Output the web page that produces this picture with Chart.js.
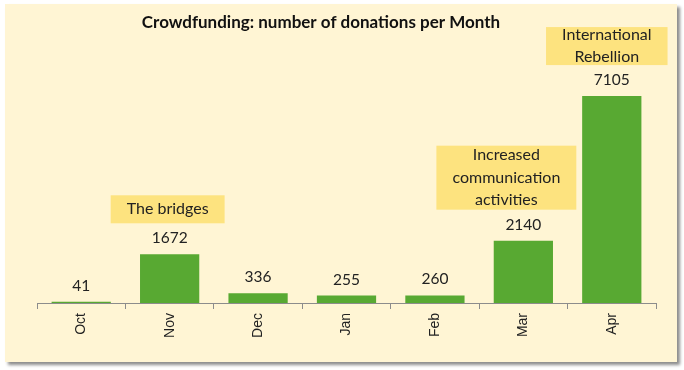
<!DOCTYPE html>
<html>
<head>
<meta charset="utf-8">
<script src="https://cdn.jsdelivr.net/npm/chart.js@4.4.1/dist/chart.umd.min.js"></script>
<style>
    html, body { margin: 0; padding: 0; background: #ffffff; }
    #wrap { position: relative; width: 684px; height: 370px; }
    #card {
        position: absolute; left: 5px; top: 4px; width: 672px; height: 358px;
        background: #fff5d4;
        box-shadow: 3px 3px 3px rgba(0, 0, 0, 0.45);
    }
    #my-chart { position: absolute; left: 0; top: 0; }
</style>
</head>
<body>
<div id="wrap">
    <div id="card"></div>
    <canvas id="my-chart" width="684" height="370"></canvas>
</div>
<script>
// * Crowdfunding donations per month, with event notes above some bars

const months = ['Oct', 'Nov', 'Dec', 'Jan', 'Feb', 'Mar', 'Apr']
const donations = [41, 1672, 336, 255, 260, 2140, 7105]
const chartTitle = 'Crowdfunding: number of donations per Month'

// notes shown above the bars (month -> text lines)
const noteMonths = ['Nov', 'Mar', 'Apr']
const noteTexts = [
    ['The bridges'],
    ['Increased', 'communication', 'activities'],
    ['International', 'Rebellion']
]

const ctx = document.getElementById('my-chart')
const textFont = 'Lato, "Open Sans", sans-serif'

// value labels + note boxes + title
const extrasPlugin = {
    id: 'extras',
    afterDatasetsDraw(chart, args, opts) {
        const c = chart.ctx
        const bars = chart.getDatasetMeta(0).data
        c.save()

        // title
        c.fillStyle = '#111111'
        c.font = 'bold 17px ' + textFont
        c.textAlign = 'center'
        c.textBaseline = 'middle'
        c.fillText(chartTitle, 321, 23)

        // numbers above the bars
        c.fillStyle = '#222222'
        c.font = '15.5px ' + textFont
        c.textBaseline = 'alphabetic'
        bars.forEach((bar, i) => {
            c.fillText(String(donations[i]), bar.x, bar.y - 11)
        })

        // note boxes
        const boxHeights = [0, 28, 38, 64]
        noteMonths.forEach((m, n) => {
            const i = months.indexOf(m)
            const bar = bars[i]
            const lines = noteTexts[n]
            const dx = opts.shift[m] || 0
            c.font = '16px ' + textFont
            const w = Math.max(...lines.map((l) => c.measureText(l).width)) + 32
            const h = boxHeights[lines.length]
            const cx = bar.x + dx
            const bottom = bar.y - 31
            c.fillStyle = '#fde37f'
            c.fillRect(cx - w / 2, bottom - h, w, h)

            c.fillStyle = '#222222'
            c.textBaseline = 'middle'
            const mid = bottom - h / 2
            lines.forEach((l, k) => {
                c.fillText(l, cx, mid + (k - (lines.length - 1) / 2) * 22.5)
            })
        })
        c.restore()
    }
}

new Chart(ctx, {
    type: 'bar',
    data: {
        labels: months,
        datasets: [
            {
                label: 'Number of donations',
                data: donations,
                backgroundColor: '#58a932',
                borderWidth: 0,
                barPercentage: 0.67,
                categoryPercentage: 1
            }
        ]
    },
    options: {
        responsive: false,
        animation: false,
        events: [],
        layout: {
            padding: { left: 37, right: 28, top: 70, bottom: 0 }
        },
        plugins: {
            legend: { display: false },
            tooltip: { enabled: false },
            extras: { shift: { Nov: -2, Mar: -17, Apr: -5 } }
        },
        scales: {
            y: {
                display: false,
                min: 0,
                max: 8000
            },
            x: {
                afterFit: (scale) => { scale.height = 67 },
                grid: {
                    display: true,
                    drawOnChartArea: false,
                    drawTicks: true,
                    tickLength: 6,
                    color: '#8c8c8c'
                },
                border: { color: '#8c8c8c', width: 1 },
                ticks: {
                    maxRotation: 90,
                    minRotation: 90,
                    padding: 4,
                    color: '#222222',
                    font: {
                        family: '"Liberation Sans", Arial, sans-serif',
                        size: 14
                    }
                }
            }
        }
    },
    plugins: [extrasPlugin]
})
</script>
</body>
</html>
